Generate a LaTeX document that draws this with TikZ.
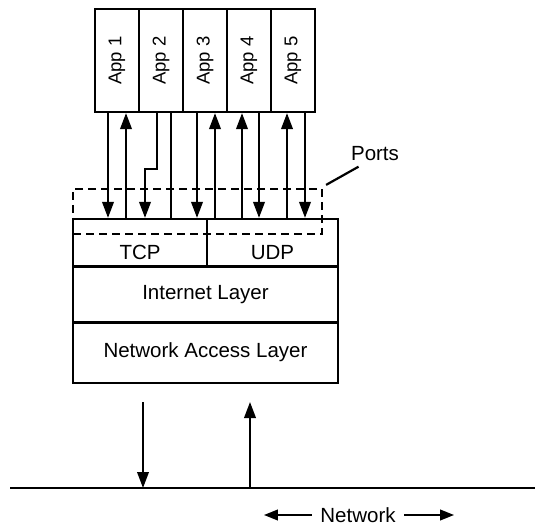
\documentclass[tikz,border=0pt]{standalone}
\usepackage{fontspec}
\setmainfont{Liberation Sans}
\usetikzlibrary{arrows.meta,calc}
\begin{document}
\begin{tikzpicture}[x=1pt,y=-1pt,
  every node/.style={font=\fontsize{20.5}{24}\selectfont},
  box/.style={draw, line width=2.2pt, inner sep=0pt},
  appbox/.style={box, minimum width=44pt, minimum height=103pt, font=\fontsize{18.5}{22}\selectfont},
  layer/.style={box, minimum width=265pt},
  conn/.style={line width=2.2pt},
  arr/.style={conn, -{Triangle[length=16pt,width=11.5pt]}},
  arrsmall/.style={conn, -{Triangle[length=14pt,width=10.5pt]}},
  portsline/.style={draw, dash pattern=on 8pt off 5pt, line width=2.2pt}
]
\useasboundingbox (0,0) rectangle (535,526);
% applications
\node[appbox] (a1) at (117,60.5) {\rotatebox{90}{App 1}};
\node[appbox] (a2) at (161,60.5) {\rotatebox{90}{App 2}};
\node[appbox] (a3) at (205,60.5) {\rotatebox{90}{App 3}};
\node[appbox] (a4) at (249,60.5) {\rotatebox{90}{App 4}};
\node[appbox] (a5) at (293,60.5) {\rotatebox{90}{App 5}};
% layers
\node[layer, minimum width=134pt, minimum height=47pt, label={[yshift=-10pt]center:TCP}] (tcp) at (140,242.5) {};
\node[layer, minimum width=131pt, minimum height=47pt, label={[yshift=-10pt]center:UDP}] (udp) at (272.5,242.5) {};
\node[layer, minimum height=56pt] (inet) at (205.5,294.5) {Internet Layer};
\node[layer, minimum height=61pt] (nal) at (205.5,352.5) {Network Access Layer};
% ports
\node[portsline, minimum width=249pt, minimum height=45pt] (portsbox) at (197.5,211.5) {};
\node (portslbl) at (375,154) {Ports};
\draw[conn] ($(portsbox.north east)+(3,-3)$) -- ($(portslbl.south west)+(11,2)$);
% connections apps <-> transport
\draw[arr] (108,0 |- a1.south) -- (108,0 |- tcp.north);
\draw[arr] (126,0 |- tcp.north) -- (126,0 |- a1.south);
\draw[arr] (157,0 |- a2.south) -- (157,169) -- (145,169) -- (145,0 |- tcp.north);
\draw[conn] (171,0 |- a2.south) -- (171,0 |- tcp.north);
\draw[arr] (197,0 |- a3.south) -- (197,0 |- tcp.north);
\draw[arr] (215,0 |- udp.north) -- (215,0 |- a3.south);
\draw[arr] (242,0 |- udp.north) -- (242,0 |- a4.south);
\draw[arr] (259,0 |- a4.south) -- (259,0 |- udp.north);
\draw[arr] (287,0 |- udp.north) -- (287,0 |- a5.south);
\draw[arr] (305,0 |- a5.south) -- (305,0 |- udp.north);
% network
\coordinate (netL) at (10,488);
\coordinate (netR) at (535,488);
\draw[conn] (netL) -- (netR);
\draw[arr] (143,402) -- (143,0 |- netL);
\draw[arr] (250,0 |- netL) -- (250,402);
\node (netlbl) at (358,515) {Network};
\draw[arrsmall] ($(netlbl.west)+(-5,0)$) -- ++(-48,0);
\draw[arrsmall] ($(netlbl.east)+(5,0)$) -- ++(50,0);
\end{tikzpicture}
\end{document}
